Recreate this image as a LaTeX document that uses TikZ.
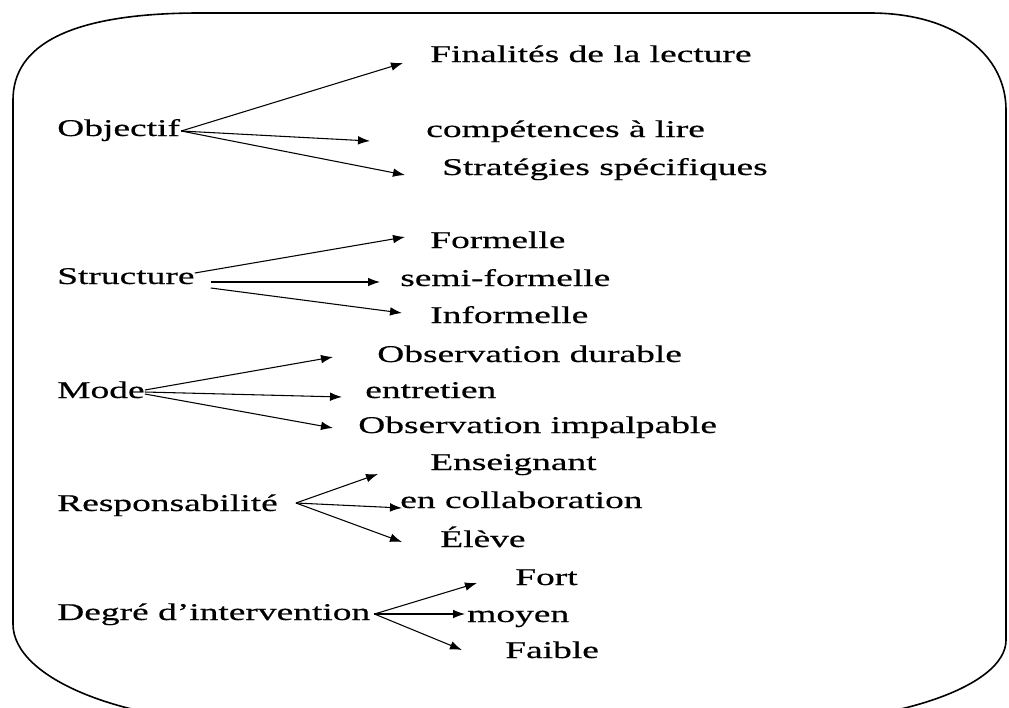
\documentclass[tikz,border=0pt]{standalone}
\usepackage{fontspec}
\setmainfont{Liberation Serif}[FakeStretch=1.56, FakeBold=0.5]
\usetikzlibrary{arrows.meta}

\begin{document}
\begin{tikzpicture}[x=0.75pt, y=-0.75pt,
    label text/.style={anchor=west, inner sep=0pt, text height=12pt, text depth=0pt, font=\fontsize{18}{20}\selectfont},
    branch/.style={black, line width=0.8pt, -{Latex[length=9pt, width=6.5pt]}}]
  \useasboundingbox (0,0) rectangle (1009,707);
  \clip (0,0) rectangle (1009,707);
  % rounded frame
  \draw[line width=1.2pt] (13,100) .. controls (13,45) and (70,13) .. (200,13) -- (870,13)
    .. controls (955,13) and (1006,55) .. (1006,110) -- (1006,640)
    .. controls (1006,686) and (897,724) .. (762,724) -- (263,724)
    .. controls (125,724) and (13,679) .. (13,624) -- cycle;
  % criteria
  \node[label text] (Objectif) at (57,128) {Objectif};
  \node[label text] (Structure) at (57,276) {Structure};
  \node[label text] (Mode) at (57,390) {Mode};
  \node[label text] (Responsabilite) at (57,503) {Responsabilité};
  \node[label text] (Degre) at (57,612) {Degré d’intervention};
  % values
  \node[label text] (Finalites) at (430,54) {Finalités de la lecture};
  \node[label text] (Competences) at (426,129) {compétences à lire};
  \node[label text] (Strategies) at (442,167) {Stratégies spécifiques};
  \node[label text] (Formelle) at (430,240) {Formelle};
  \node[label text] (SemiFormelle) at (400,278) {semi-formelle};
  \node[label text] (Informelle) at (430,315) {Informelle};
  \node[label text] (ObsDurable) at (377,354) {Observation durable};
  \node[label text] (Entretien) at (365,390) {entretien};
  \node[label text] (ObsImpalpable) at (358,425) {Observation impalpable};
  \node[label text] (Enseignant) at (430,462) {Enseignant};
  \node[label text] (Collaboration) at (400,500) {en collaboration};
  \node[label text] (Eleve) at (440,539) {Élève};
  \node[label text] (Fort) at (515,577) {Fort};
  \node[label text] (Moyen) at (467,614) {moyen};
  \node[label text] (Faible) at (505,650) {Faible};
  % branches
  \draw[branch] ([shift={(1,3)}]Objectif.east) -- ([shift={(-27,9)}]Finalites.west);
  \draw[branch] ([shift={(1,3)}]Objectif.east) -- ([shift={(-56,12)}]Competences.west);
  \draw[branch] ([shift={(1,3)}]Objectif.east) -- ([shift={(-37,8)}]Strategies.west);
  \draw[branch] ([shift={(0,-3)}]Structure.east) -- ([shift={(-25,-3)}]Formelle.west);
  \draw[branch] ([shift={(16,6)}]Structure.east) -- ([shift={(-20,4)}]SemiFormelle.west);
  \draw[branch] ([shift={(16,12)}]Structure.east) -- ([shift={(-28,-2)}]Informelle.west);
  \draw[branch] (Mode.east) -- ([shift={(-44,3)}]ObsDurable.west);
  \draw[branch] ([shift={(0,2)}]Mode.east) -- ([shift={(-23,7)}]Entretien.west);
  \draw[branch] ([shift={(0,4)}]Mode.east) -- ([shift={(-25,3)}]ObsImpalpable.west);
  \draw[branch] ([shift={(18,0)}]Responsabilite.east) -- ([shift={(-52,12)}]Enseignant.west);
  \draw[branch] ([shift={(18,0)}]Responsabilite.east) -- ([shift={(2,8)}]Collaboration.west);
  \draw[branch] ([shift={(18,0)}]Responsabilite.east) -- ([shift={(-38,3)}]Eleve.west);
  \draw[branch] ([shift={(4,2)}]Degre.east) -- ([shift={(-38,6)}]Fort.west);
  \draw[branch] ([shift={(4,2)}]Degre.east) -- ([shift={(-2,0)}]Moyen.west);
  \draw[branch] ([shift={(4,2)}]Degre.east) -- ([shift={(-43,0)}]Faible.west);
\end{tikzpicture}
\end{document}
